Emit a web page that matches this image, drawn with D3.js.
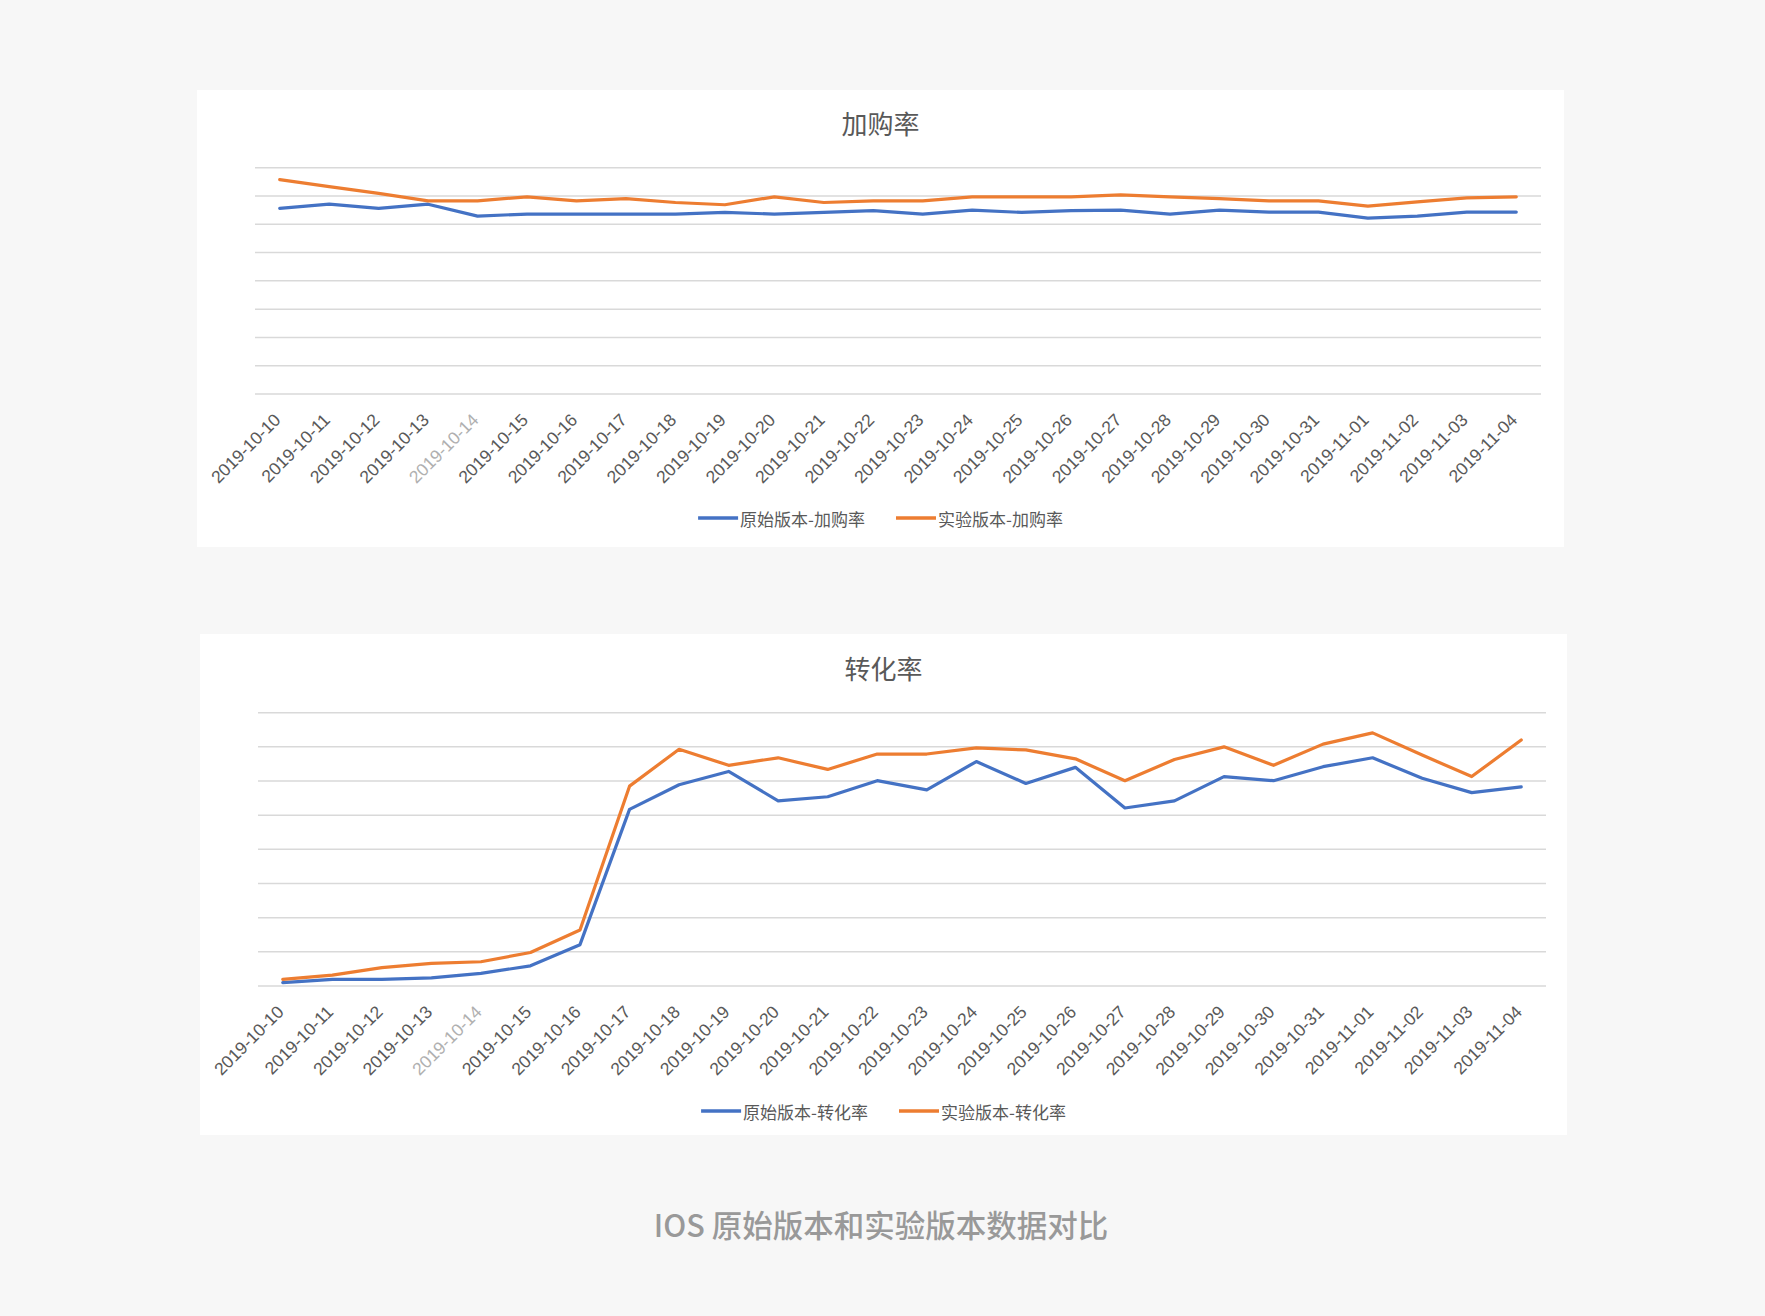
<!DOCTYPE html>
<html>
<head>
<meta charset="utf-8">
<script src="https://cdn.jsdelivr.net/npm/d3@7"></script>
<style>
  html, body { margin: 0; padding: 0; background: #f7f7f7; }
  svg { display: block; }
</style>
</head>
<body>
<svg id="root" width="1765" height="1316"></svg>
<script>
// ---- data ----
const dates = ["2019-10-10","2019-10-11","2019-10-12","2019-10-13","2019-10-14","2019-10-15","2019-10-16","2019-10-17","2019-10-18","2019-10-19","2019-10-20","2019-10-21","2019-10-22","2019-10-23","2019-10-24","2019-10-25","2019-10-26","2019-10-27","2019-10-28","2019-10-29","2019-10-30","2019-10-31","2019-11-01","2019-11-02","2019-11-03","2019-11-04"];
const gridTicks = [0,1,2,3,4,5,6,7,8];
const cartOriginal = [6.56,6.71,6.56,6.71,6.29,6.36,6.36,6.36,6.36,6.42,6.36,6.42,6.48,6.36,6.50,6.42,6.48,6.50,6.36,6.50,6.43,6.43,6.22,6.29,6.43,6.43];
const cartExperiment = [7.58,7.33,7.09,6.83,6.83,6.97,6.83,6.91,6.77,6.69,6.97,6.77,6.83,6.83,6.97,6.97,6.97,7.04,6.97,6.91,6.83,6.83,6.64,6.79,6.93,6.97];
const convOriginal = [0.10,0.195,0.195,0.24,0.37,0.59,1.21,5.17,5.89,6.28,5.42,5.54,6.01,5.74,6.57,5.93,6.40,5.21,5.42,6.13,6.01,6.42,6.68,6.08,5.66,5.83];
const convExperiment = [0.195,0.32,0.54,0.66,0.71,0.98,1.64,5.85,6.93,6.46,6.68,6.34,6.79,6.79,6.97,6.91,6.65,6.01,6.63,7.00,6.46,7.08,7.41,6.76,6.13,7.20];
const dimDates = ["2019-10-14"];
const seriesNames1 = ["原始版本-加购率","实验版本-加购率"];
const seriesNames2 = ["原始版本-转化率","实验版本-转化率"];
const chartTitles = ["加购率","转化率"];
const caption = "IOS 原始版本和实验版本数据对比";

const colors = ["#4472c4", "#ed7d31"];
const cjk = "'Noto Sans CJK SC', 'Noto Sans', sans-serif";
const latin = "'Liberation Sans', Arial, sans-serif";

const svg = d3.select("#root");

function drawChart(cfg) {
  const g = svg.append("g");
  g.append("rect").attr("x", cfg.panel.x).attr("y", cfg.panel.y)
    .attr("width", cfg.panel.w).attr("height", cfg.panel.h).attr("fill", "#ffffff");

  const x = d3.scaleBand().domain(dates).range([cfg.plot.x0, cfg.plot.x1]);
  const y = d3.scaleLinear().domain([0, 8]).range([cfg.plot.y1, cfg.plot.y0]);
  const cx = d => x(d) + x.bandwidth() / 2;

  // title
  g.append("text").attr("x", cfg.panel.x + cfg.panel.w / 2).attr("y", cfg.titleY)
    .attr("text-anchor", "middle").attr("dominant-baseline", "central")
    .style("font-family", cjk).style("font-size", "26px").attr("fill", "#595959")
    .text(cfg.title);

  // gridlines
  g.append("g").selectAll("line").data(gridTicks).join("line")
    .attr("x1", cfg.plot.x0).attr("x2", cfg.plot.x1)
    .attr("y1", d => y(d)).attr("y2", d => y(d))
    .attr("stroke", "#d9d9d9").attr("stroke-width", 1.5);

  // x labels
  g.append("g").selectAll("text").data(dates).join("text")
    .attr("transform", d => `translate(${cx(d) + 2},${cfg.plot.y1 + 27}) rotate(-45)`)
    .attr("text-anchor", "end")
    .style("font-family", latin).style("font-size", "17.5px")
    .attr("fill", d => dimDates.includes(d) ? "#b0b0b0" : "#595959")
    .text(d => d);

  // lines
  const line = d3.line().x((d, i) => cx(dates[i])).y(d => y(d));
  cfg.series.forEach((s, i) => {
    g.append("path").datum(s).attr("d", line)
      .attr("fill", "none").attr("stroke", colors[i]).attr("stroke-width", 3.2)
      .attr("stroke-linejoin", "round").attr("stroke-linecap", "round");
  });

  // legend
  const lg = g.append("g");
  let cursor = 0;
  cfg.names.forEach((n, i) => {
    const it = lg.append("g");
    it.append("line").attr("x1", 0).attr("x2", 40).attr("y1", 0).attr("y2", 0)
      .attr("stroke", colors[i]).attr("stroke-width", 3.5);
    const t = it.append("text").attr("x", 42).attr("y", 0).attr("dominant-baseline", "central")
      .style("font-family", cjk).style("font-size", "17px").attr("fill", "#595959").text(n);
    const w = 42 + t.node().getComputedTextLength();
    it.attr("transform", `translate(${cursor},0)`);
    cursor += w + 31;
  });
  const total = cursor - 31;
  lg.attr("transform", `translate(${cfg.panel.x + cfg.panel.w / 2 - total / 2},${cfg.legendY})`);
}

drawChart({
  panel: {x: 197, y: 90, w: 1367, h: 457},
  plot: {x0: 255, x1: 1541, y0: 167.7, y1: 394},
  titleY: 122,
  title: chartTitles[0],
  series: [cartOriginal, cartExperiment],
  names: seriesNames1,
  legendY: 518
});

drawChart({
  panel: {x: 200, y: 634, w: 1367, h: 501},
  plot: {x0: 258, x1: 1546, y0: 712.7, y1: 986},
  titleY: 667.5,
  title: chartTitles[1],
  series: [convOriginal, convExperiment],
  names: seriesNames2,
  legendY: 1111
});

svg.append("text").attr("x", 881).attr("y", 1224)
  .attr("text-anchor", "middle").attr("dominant-baseline", "central")
  .style("font-family", cjk).style("font-size", "30.5px").style("font-weight", 500)
  .attr("fill", "#999999").text(caption);
</script>
</body>
</html>
